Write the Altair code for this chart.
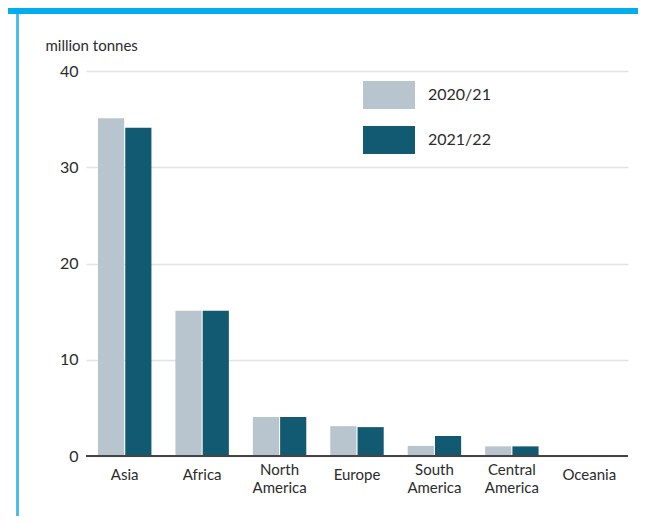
import altair as alt
import pandas as pd

regions = ["Asia", "Africa", "North America", "Europe", "South America", "Central America", "Oceania"]
season_a = "2020/21"
season_b = "2021/22"
values_a = [35.1, 15.1, 4.05, 3.1, 1.05, 1.0, 0.05]
values_b = [34.1, 15.1, 4.05, 3.0, 2.08, 1.0, 0.05]
label_line1 = ["Asia", "Africa", "North", "Europe", "South", "Central", "Oceania"]
label_line2 = ["", "", "America", "", "America", "America", ""]
y_ticks = [0, 10, 20, 30, 40]

rows = []
for r, a, b in zip(regions, values_a, values_b):
    rows.append({"region": r, "season": season_a, "value": a})
    rows.append({"region": r, "season": season_b, "value": b})
df = pd.DataFrame(rows)
lab = pd.DataFrame({"region": regions, "l1": label_line1, "l2": label_line2})

W, H = 542, 385
FONT = "Lato"
TXT = "#2b2b2b"

xscale = alt.Scale(domain=regions, paddingInner=0.31, paddingOuter=0.155)
xenc = alt.X("region:N", scale=xscale, axis=None, sort=regions)

bars = alt.Chart(df).mark_bar().encode(
    x=xenc,
    xOffset=alt.XOffset("season:N", scale=alt.Scale(domain=[season_a, season_b], paddingInner=0.04)),
    y=alt.Y("value:Q", scale=alt.Scale(domain=[0, 40]),
            axis=alt.Axis(values=y_ticks, grid=True, gridColor="#E3E3E3", gridWidth=1.5,
                          domain=False, ticks=False, labelPadding=8, labelFontSize=16,
                          labelColor=TXT, labelFont=FONT, title="million tonnes", titleAngle=0,
                          titleAlign="left", titleBaseline="middle", titleX=-41, titleY=-26,
                          titleFontSize=15, titleFontWeight="normal", titleColor=TXT, titleFont=FONT)),
    color=alt.Color("season:N", scale=alt.Scale(domain=[season_a, season_b], range=["#B8C5CE", "#125A72"]),
                    legend=alt.Legend(orient="none", legendX=277, legendY=-2, title=None,
                                      symbolType="M-1,-0.54H1V0.54H-1Z", symbolSize=2704,
                                      symbolStrokeWidth=0, symbolOpacity=1,
                                      labelFontSize=16, labelFont=FONT, labelColor=TXT,
                                      labelOffset=13, rowPadding=4)),
)

zero = alt.Chart(df).mark_rule(color="#444444", strokeWidth=1.5).encode(
    y=alt.datum(0), x=alt.value(0), x2=alt.value(W)
)

single = alt.Chart(lab).transform_filter("datum.l2 == ''").mark_text(
    font=FONT, fontSize=15, color=TXT, baseline="middle"
).encode(x=xenc, y=alt.value(404), text="l1:N")

two1 = alt.Chart(lab).transform_filter("datum.l2 != ''").mark_text(
    font=FONT, fontSize=15, color=TXT, baseline="middle"
).encode(x=xenc, y=alt.value(399), text="l1:N")

two2 = alt.Chart(lab).transform_filter("datum.l2 != ''").mark_text(
    font=FONT, fontSize=15, color=TXT, baseline="middle"
).encode(x=xenc, y=alt.value(417), text="l2:N")

band = alt.Chart(lab).mark_rect(color="#00AEEF").encode(
    x=alt.value(-78), x2=alt.value(W + 10), y=alt.value(-63), y2=alt.value(-57)
)
leftline = alt.Chart(lab).mark_rule(color="#3DB8EA", strokeWidth=1.5).encode(
    x=alt.value(-68.5), y=alt.value(-57), y2=alt.value(H + 60)
)

chart = alt.layer(bars, zero, single, two1, two2, band, leftline).properties(
    width=W, height=H,
    autosize=alt.AutoSizeParams(type="none"),
    padding={"left": 78, "top": 63, "right": 10, "bottom": 60},
).configure_view(stroke=None)

chart.save("out.html", embed_options={"renderer": "svg", "actions": False})
